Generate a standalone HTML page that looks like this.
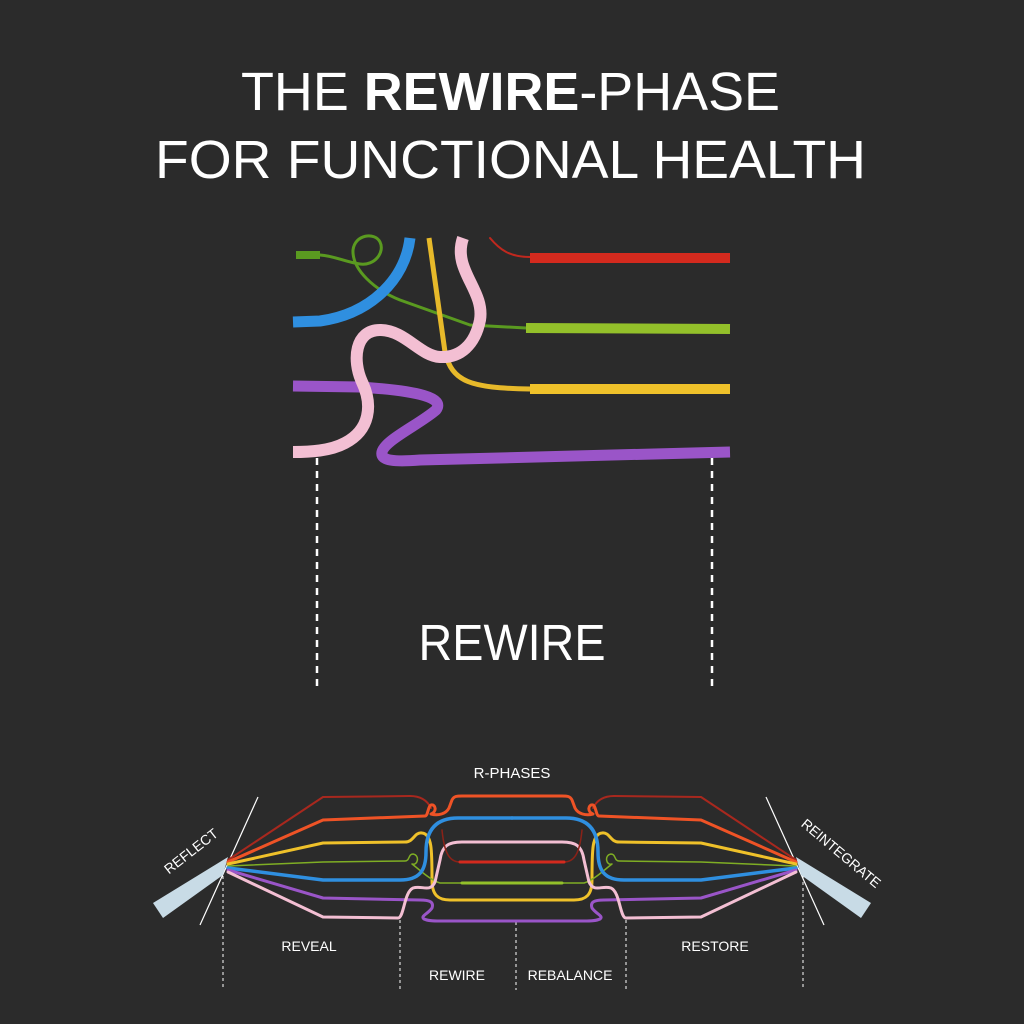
<!DOCTYPE html>
<html><head><meta charset="utf-8"><style>
html,body{margin:0;padding:0;background:#2b2b2b;}
svg{display:block;}
text{font-family:"Liberation Sans",sans-serif;fill:#fff;}
</style></head><body>
<svg width="1024" height="1024" viewBox="0 0 1024 1024" xmlns="http://www.w3.org/2000/svg">
<rect width="1024" height="1024" fill="#2b2b2b"/>
<text x="241" y="110" font-size="54" textLength="539" lengthAdjust="spacingAndGlyphs">THE <tspan font-weight="bold">REWIRE</tspan>-PHASE</text>
<text x="155" y="178" font-size="54" textLength="711" lengthAdjust="spacingAndGlyphs">FOR FUNCTIONAL HEALTH</text>

<g fill="none" stroke-linecap="round" stroke-linejoin="round">
<path d="M490,238 C500,250 510,257 530,257" stroke="#c0281e" stroke-width="2"/>
<path d="M530,258 L730,258" stroke="#d42a1e" stroke-width="10" stroke-linecap="butt"/>
<path d="M296,255 L320,255" stroke="#5a9a20" stroke-width="8" stroke-linecap="butt"/>
<path d="M320,255 C335,256 345,262 360,264 C375,266 385,252 380,242 C375,232 355,234 353,250 C352,270 375,290 400,300 L470,325 L526,328" stroke="#5a9a20" stroke-width="3"/>
<path d="M526,328 L730,329" stroke="#93c02a" stroke-width="10" stroke-linecap="butt"/>
<path d="M293,322 L320,321 C370,314 405,280 410,238" stroke="#2f8fe0" stroke-width="11" stroke-linecap="butt"/>
<path d="M429,238 L445,352 C452,382 470,388 530,389" stroke="#e7b92a" stroke-width="5" stroke-linecap="butt"/>
<path d="M530,389 L730,389" stroke="#efc12a" stroke-width="10" stroke-linecap="butt"/>
<path d="M293,386 L360,387 C420,391 445,398 436,410 C420,424 385,440 382,452 C380,461 395,462 420,460 L730,452" stroke="#9a55c8" stroke-width="11" stroke-linecap="butt"/>
<path d="M463,238 C452,270 485,290 480,320 C475,345 460,358 440,357 C420,356 405,330 380,330 C355,330 352,360 362,382 C373,405 370,430 345,443 C330,451 310,452 293,452" stroke="#f3bfd3" stroke-width="12" stroke-linecap="butt"/>
</g>
<g stroke="#fff" stroke-width="2.5" stroke-dasharray="7,6">
<line x1="317" y1="458" x2="317" y2="692"/>
<line x1="712" y1="458" x2="712" y2="692"/>
</g>
<text x="512" y="660" font-size="51" text-anchor="middle" textLength="187" lengthAdjust="spacingAndGlyphs">REWIRE</text>

<text x="512" y="778" font-size="15" text-anchor="middle">R-PHASES</text>
<g stroke="#fff" stroke-width="1" stroke-dasharray="3,3">
<line x1="223" y1="870" x2="223" y2="990"/>
<line x1="400" y1="920" x2="400" y2="990"/>
<line x1="516" y1="922" x2="516" y2="990"/>
<line x1="626" y1="920" x2="626" y2="990"/>
<line x1="803" y1="870" x2="803" y2="990"/>
</g>
<line x1="258" y1="797" x2="200" y2="925" stroke="#fff" stroke-width="1.2"/>
<line x1="766" y1="797" x2="824" y2="925" stroke="#fff" stroke-width="1.2"/>
<polygon points="153,903 163,918 223,875 228,857" fill="#c8dbe6"/>
<polygon points="871,903 861,918 801,875 796,857" fill="#c8dbe6"/>

<g id="half" fill="none" stroke-width="3" stroke-linecap="round" stroke-linejoin="round">
<path d="M228,860 L323,797 L410,796 C422,796 428,802 431,808" stroke="#a8281e" stroke-width="2"/>
<path d="M228,862 L323,820 L425,816 C428,816 428,806 431,805 C436,804 437,812 431,814 C438,816 446,814 449,808 L452,800 C454,796 457,796 462,796 L512,796" stroke="#ef5326"/>
<path d="M228,864 L323,843 L405,842 C414,842 414,832 422,833 C432,834 432,850 432,880 C432,895 438,900 450,900 L512,900" stroke="#efc12a"/>
<path d="M228,866 L323,862 L405,861 C410,861 408,854 413,854 C420,855 418,866 412,864 C420,870 430,880 440,883 L462,883" stroke="#7fae24" stroke-width="1.5"/>
<path d="M462,883 L512,883" stroke="#93c02a"/>
<path d="M228,868 L323,880 L400,880 C420,880 426,870 426,852 C426,830 436,818 458,818 L512,818" stroke="#2f8fe0" stroke-width="3.5"/>
<path d="M228,870 L323,898 L420,900 C430,900 434,902 432,908 C428,914 420,916 424,919 C428,921 434,921 440,921 L512,921" stroke="#9a55c8"/>
<path d="M228,872 L323,917 L398,918 C404,918 404,892 413,888 C422,885 430,893 435,882 L440,860 C442,846 448,842 462,842 L512,842" stroke="#f3bfd3"/>
<path d="M442,830 C444,850 448,862 460,862" stroke="#8a2218" stroke-width="1.5"/>
<path d="M460,862 L512,862" stroke="#d42a1e"/>
</g>
<use href="#half" transform="matrix(-1,0,0,1,1024,0)"/>

<text font-size="14" transform="translate(194,855) rotate(-38)" text-anchor="middle">REFLECT</text>
<text font-size="14" transform="translate(838,857) rotate(40)" text-anchor="middle">REINTEGRATE</text>
<text x="309" y="951" font-size="14" text-anchor="middle">REVEAL</text>
<text x="715" y="951" font-size="14" text-anchor="middle">RESTORE</text>
<text x="457" y="980" font-size="14" text-anchor="middle">REWIRE</text>
<text x="570" y="980" font-size="14" text-anchor="middle">REBALANCE</text>
</svg>
</body></html>
